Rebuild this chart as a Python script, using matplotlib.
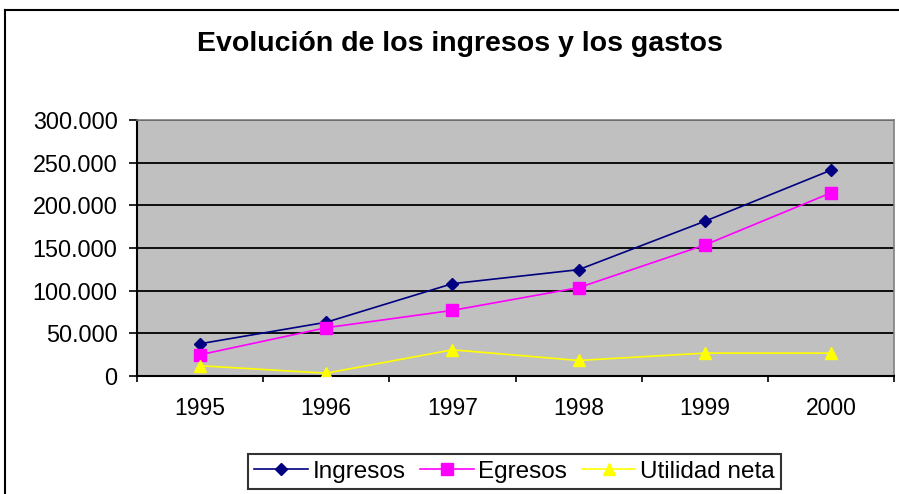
import matplotlib
matplotlib.use("Agg")
import matplotlib.pyplot as plt
from matplotlib.lines import Line2D
from matplotlib.ticker import FuncFormatter, FixedLocator

plt.rcParams['font.family'] = ['Liberation Sans', 'DejaVu Sans']

years = ['1995', '1996', '1997', '1998', '1999', '2000']
ingresos = [37800, 63000, 108200, 124600, 181300, 241200]
egresos = [24900, 56600, 76900, 103500, 153500, 214600]
utilidad = [12000, 3300, 30700, 18200, 26800, 26800]
y_ticks = [0, 50000, 100000, 150000, 200000, 250000, 300000]

W, H = 899, 494
fig = plt.figure(figsize=(W / 100, H / 100), dpi=100)
ax = fig.add_axes([137 / W, (H - 376) / H, (894 - 137) / W, 256 / H])
ax.set_facecolor('#C0C0C0')

x = list(range(len(years)))
ax.plot(x, ingresos, color='#000080', lw=1.2, marker='D', ms=5.8, label='Ingresos', zorder=3)
ax.plot(x, egresos, color='#FF00FF', lw=1.2, marker='s', ms=9, label='Egresos', zorder=3)
ax.plot(x, utilidad, color='#FFFF00', lw=1.2, marker='^', ms=8.5, label='Utilidad neta', zorder=3)

ax.set_xlim(-0.5, len(years) - 0.5)
ax.set_ylim(0, 300000)

# y axis
ax.yaxis.set_major_locator(FixedLocator(y_ticks))
ax.yaxis.set_major_formatter(FuncFormatter(lambda v, p: f'{int(v):,}'.replace(',', '.')))
ax.tick_params(axis='y', direction='out', length=6, width=1.2, pad=8, labelsize=16.8, color='black')
ax.yaxis.grid(True, color='black', lw=1.3)
ax.set_axisbelow(True)

# x axis: ticks between categories, labels centered
ax.xaxis.set_major_locator(FixedLocator([i - 0.5 for i in range(len(years) + 1)]))
ax.xaxis.set_minor_locator(FixedLocator(x))
ax.set_xticklabels([], minor=False)
ax.set_xticklabels(years, minor=True)
ax.tick_params(axis='x', which='major', direction='out', length=4.5, width=1.2, color='black')
ax.tick_params(axis='x', which='minor', length=0, pad=15, labelsize=16.5)

for side in ['left', 'bottom']:
    ax.spines[side].set_color('black')
    ax.spines[side].set_linewidth(1.5)
for side in ['top', 'right']:
    ax.spines[side].set_color('#808080')
    ax.spines[side].set_linewidth(1.2)

# chart frame (cut off at right and bottom)
fig.add_artist(Line2D([5 / W, 5 / W], [0, 1 - 10 / H], color='black', lw=1.5))
fig.add_artist(Line2D([5 / W, 1], [1 - 10 / H, 1 - 10 / H], color='black', lw=1.5))

fig.text(460 / W, 1 - 44 / H, 'Evolución de los ingresos y los gastos',
         ha='center', va='center', fontsize=20.5, fontweight='bold')

leg = ax.legend(loc='center', bbox_to_anchor=(514.5 / W, 1 - 471.5 / H),
                bbox_transform=fig.transFigure, ncol=3, fontsize=17.5,
                frameon=True, fancybox=False, edgecolor='black', facecolor='white',
                handlelength=2.2, handletextpad=0.2, columnspacing=0.6,
                borderpad=0.25, borderaxespad=0)
leg.get_frame().set_linewidth(1.5)

fig.savefig('out.png', dpi=100, facecolor='white')
